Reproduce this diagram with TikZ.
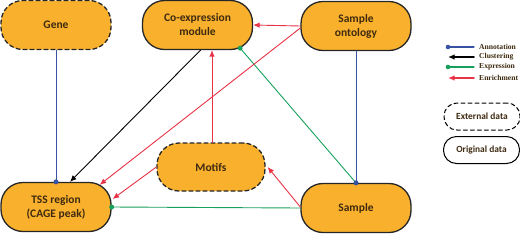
\documentclass[tikz,border=0pt]{standalone}
\usepackage{fontspec}
\setmainfont{Carlito}
\newfontfamily\legendfont{Liberation Serif}
\usetikzlibrary{arrows.meta}
\definecolor{boxorange}{RGB}{249,176,44}
\definecolor{boxtext}{RGB}{62,42,16}
\definecolor{annblue}{RGB}{56,83,164}
\definecolor{expgreen}{RGB}{22,160,92}
\definecolor{enrred}{RGB}{232,50,70}

\begin{document}
\begin{tikzpicture}[x=1pt,y=-1pt,>={Latex[length=6.5pt,width=5.5pt]},line cap=round,line join=round,
  box/.style={draw=black!85,line width=1.3pt,fill=boxorange,rounded corners=22pt,
    minimum width=110pt,minimum height=49pt,align=center,text=boxtext,
    font=\bfseries\fontsize{11.5}{14}\selectfont},
  extbox/.style={box,dash pattern=on 4pt off 3pt},
  keybox/.style={draw,line width=1pt,rounded corners=13pt,minimum width=76pt,
    minimum height=27pt,text=boxtext,font=\bfseries\fontsize{9.4}{11}\selectfont},
  keytext/.style={anchor=west,inner sep=0pt,text=boxtext,font=\legendfont\bfseries\fontsize{7.6}{9}\selectfont},
  link/.style={line width=0.9pt},
  dot/.style={fill,radius=2.5pt}]
  \useasboundingbox (0,0) rectangle (520,234);

  % boxes
  \node[extbox] (gene) at (56,25) {Gene};
  \node[box] (coexp) at (197.5,25) {Co-expression\\module};
  \node[box] (onto) at (356,26) {Sample\\ontology};
  \node[box] (tss) at (56,207) {TSS region\\(CAGE peak)};
  \node[extbox,minimum width=108pt,minimum height=48pt] (motifs) at (211,167) {Motifs};
  \node[box] (sample) at (356,208) {Sample};

  % annotation
  \draw[link,annblue] (gene.south) -- (tss.north);
  \fill[annblue] (tss.north) circle[dot];
  \draw[link,annblue] (onto.south) -- (sample.north);
  % clustering
  \draw[link,->] ([xshift=3pt]coexp.south) -- ([xshift=14pt]tss.north);
  % expression
  \draw[link,expgreen] (sample.north) -- ([xshift=-13pt,yshift=2pt]coexp.south east);
  \fill[expgreen] ([xshift=-13pt,yshift=2pt]coexp.south east) circle[dot];
  \draw[link,expgreen] (sample.west) -- (tss.east);
  \fill[expgreen] (tss.east) circle[dot];
  \fill[annblue] (sample.north) circle[dot];
  % enrichment
  \draw[link,enrred,->] (onto.west) -- (coexp.east);
  \draw[link,enrred,->] ([yshift=-2pt]onto.west) -- ([xshift=-12pt,yshift=-3pt]tss.north east);
  \draw[link,enrred,->] ([xshift=1pt]motifs.north) -- ([xshift=14.5pt]coexp.south);
  \draw[link,enrred,->] (motifs.west) -- ([xshift=1pt,yshift=8pt]tss.east);
  \draw[link,enrred,->] ([yshift=1pt]sample.west) -- ([xshift=2pt]motifs.east);

  % key
  \foreach \k/\y in {ann/47,clu/57,exp/67,enr/78} {
    \coordinate (\k-a) at (448,\y);
    \coordinate (\k-b) at (474,\y);
  }
  \draw[line width=1.1pt,annblue] (ann-a) -- (ann-b);
  \fill[annblue] (ann-a) circle[radius=2.3pt];
  \draw[line width=1.6pt,<-] (clu-a) -- (clu-b);
  \draw[line width=1.1pt,expgreen] (exp-a) -- (exp-b);
  \fill[expgreen] (exp-a) circle[radius=2.3pt];
  \draw[line width=1.6pt,enrred,<-] (enr-a) -- (enr-b);
  \node[keytext] (annlbl) at (479,47) {Annotation};
  \node[keytext] (clulbl) at (479,57) {Clustering};
  \node[keytext] (explbl) at (479,67) {Expression};
  \node[keytext] (enrlbl) at (479,78) {Enrichment};

  \node[keybox,dash pattern=on 4pt off 3pt] (extkey) at (482,116.5) {External data};
  \node[keybox] (origkey) at (481.5,150) {Original data};
\end{tikzpicture}
\end{document}
